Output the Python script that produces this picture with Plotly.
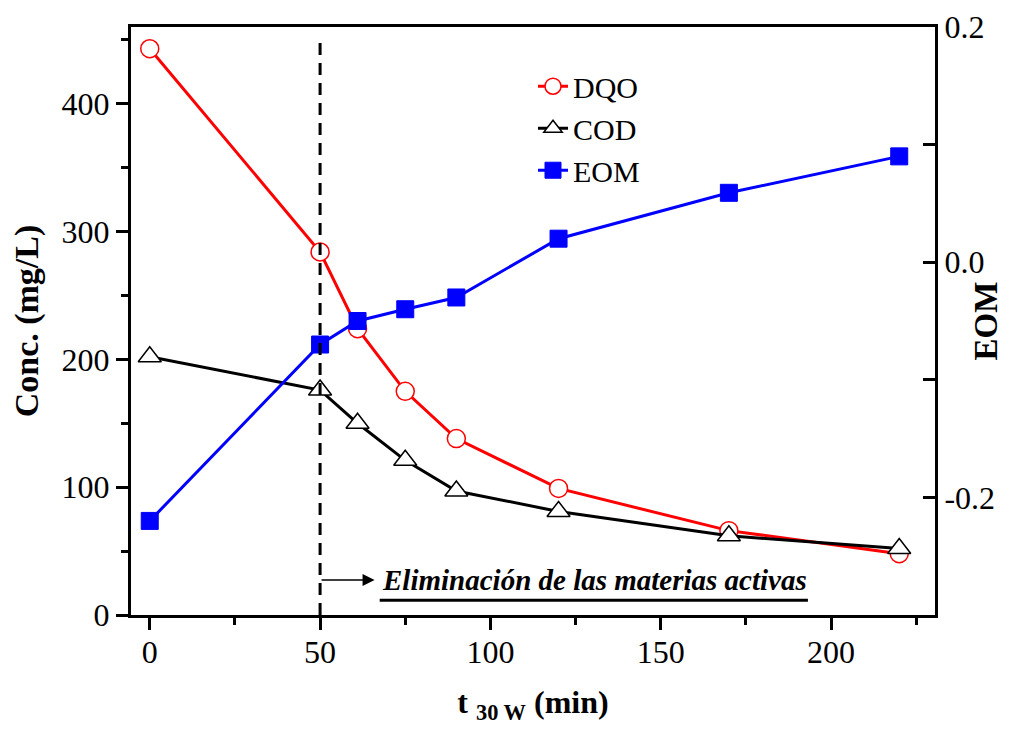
import plotly.graph_objects as go

time_min = [0, 50, 61, 75, 90, 120, 170, 220]
dqo = [443, 284, 224, 175, 138, 99, 66, 48]
cod = [202, 176, 150, 121, 97, 81, 62, 52]
eom = [-0.22, -0.07, -0.050, -0.040, -0.030, 0.020, 0.059, 0.090]

x_ticks = [0, 50, 100, 150, 200]
y_ticks = [0, 100, 200, 300, 400]
y2_ticks = [-0.2, 0.0, 0.2]
y2_tick_text = ["-0.2", "0.0", "0.2"]

FONT = "Liberation Serif, Times New Roman, serif"

fig = go.Figure()
fig.add_trace(go.Scatter(
    x=time_min, y=dqo, name="DQO", mode="lines+markers",
    line=dict(color="#ff0000", width=3),
    marker=dict(symbol="circle", size=18, color="white", line=dict(color="#ff0000", width=1.5)),
))
fig.add_trace(go.Scatter(
    x=time_min, y=cod, name="COD", mode="lines+markers",
    line=dict(color="black", width=3),
    marker=dict(symbol="triangle-up", size=20, color="white", line=dict(color="black", width=1.5)),
))
fig.add_trace(go.Scatter(
    x=time_min, y=eom, name="EOM", mode="lines+markers", yaxis="y2",
    line=dict(color="#0000ff", width=3),
    marker=dict(symbol="square", size=17, color="#0000ff", line=dict(color="#0000ff", width=1)),
))

axis_common = dict(
    showline=True, linecolor="black", linewidth=3,
    ticklen=12, tickwidth=2.5, tickcolor="black",
    showgrid=False, zeroline=False, automargin=False,
    tickfont=dict(family=FONT, size=32, color="black"),
)

# page body adds an 8px margin, so the figure is 1003x725 placed at (8,8)
fig.update_layout(
    width=1003, height=725,
    margin=dict(l=123, r=76, t=19, b=118),
    paper_bgcolor="white", plot_bgcolor="white",
    font=dict(family=FONT, color="black"),
    xaxis=dict(
        range=[-5.5, 230.5], tickvals=x_ticks, mirror=True, ticks="outside",
        ticklabelstandoff=-5,
        minor=dict(dtick=25, tick0=0, ticks="outside", ticklen=7, tickwidth=2.5, tickcolor="black"),
        title=dict(text="<b>t <sub>30 W</sub> (min)</b>", font=dict(family=FONT, size=32, color="black"), standoff=22),
        **axis_common,
    ),
    yaxis=dict(
        range=[0, 460], tickvals=y_ticks, ticks="outside",
        minor=dict(dtick=50, tick0=0, ticks="outside", ticklen=7, tickwidth=2.5, tickcolor="black"),
        title=dict(text="<b>Conc. (mg/L)</b>", font=dict(family=FONT, size=34, color="black"), standoff=14),
        **axis_common,
    ),
    yaxis2=dict(
        range=[-0.3, 0.2], tickvals=y2_ticks, ticktext=y2_tick_text,
        overlaying="y", side="right", ticks="inside",
        minor=dict(dtick=0.1, tick0=0, ticks="inside", ticklen=12, tickwidth=2.5, tickcolor="black"),
        **axis_common,
    ),
    legend=dict(
        x=0.50, y=0.9435, xanchor="left", yanchor="top",
        bgcolor="rgba(0,0,0,0)", borderwidth=0,
        font=dict(family=FONT, size=30, color="black"),
        tracegroupgap=0,
    ),
    showlegend=True,
)

# right axis title
fig.add_annotation(x=1.064, y=0.5, xref="paper", yref="paper", xanchor="center", yanchor="middle",
                   text="<b>EOM</b>", textangle=-90, showarrow=False,
                   font=dict(family=FONT, size=33, color="black"))

fig.add_shape(type="line", xref="x", yref="paper", x0=50, x1=50, y0=0, y1=0.985,
              line=dict(color="black", width=3, dash="12px,8px"))

fig.add_annotation(x=66, y=27.3, ax=50, ay=27.3, axref="x", ayref="y", xref="x", yref="y",
                   text="", showarrow=True, arrowhead=2, arrowsize=1.6, arrowwidth=1.5, arrowcolor="black")
fig.add_annotation(x=67.5, y=27.3, xref="x", yref="y", xanchor="left", yanchor="middle",
                   text="<b><i>Eliminación de las materias activas</i></b>", showarrow=False,
                   font=dict(family=FONT, size=29, color="black"))
fig.add_shape(type="line", xref="x", yref="y", x0=67.5, x1=193.2, y0=11.5, y1=11.5,
              line=dict(color="black", width=3))

fig.write_html("out.html")
